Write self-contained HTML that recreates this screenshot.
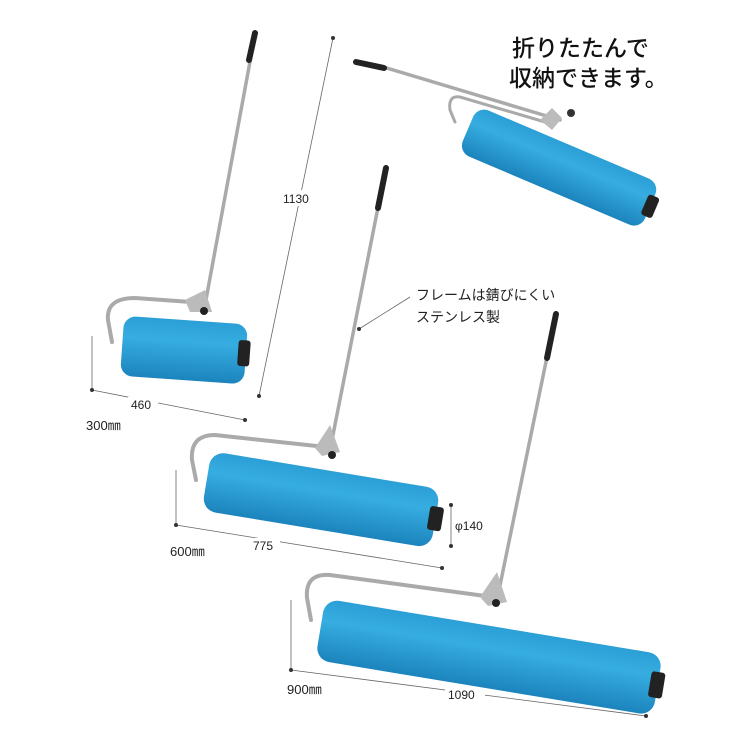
<!DOCTYPE html>
<html><head><meta charset="utf-8"><style>
html,body{margin:0;padding:0;background:#fff;}
svg{display:block}
text{font-family:"Liberation Sans","Noto Sans CJK JP",sans-serif;fill:#222}
</style></head><body>
<svg width="750" height="750" viewBox="0 0 750 750" xmlns="http://www.w3.org/2000/svg">
<defs>
<linearGradient id="blue" x1="0" y1="0" x2="0" y2="1">
<stop offset="0" stop-color="#2b9fd6"/><stop offset="0.35" stop-color="#36ade0"/><stop offset="1" stop-color="#1c84bd"/>
</linearGradient>
</defs>

<g stroke="#666" stroke-width="0.8" fill="none">
<line x1="333" y1="38" x2="259" y2="396"/>
<line x1="92" y1="336" x2="92" y2="390"/>
<line x1="92" y1="390" x2="245" y2="420"/>
<line x1="176" y1="470" x2="176" y2="525"/>
<line x1="176" y1="525" x2="442" y2="568"/>
<line x1="451" y1="505" x2="451" y2="546"/>
<line x1="291" y1="600" x2="291" y2="670"/>
<line x1="291" y1="670" x2="646" y2="716"/>
<line x1="410" y1="297" x2="359" y2="329"/>
</g>
<g fill="#333">
<circle cx="333" cy="38" r="2"/><circle cx="259" cy="396" r="2"/>
<circle cx="92" cy="390" r="2"/><circle cx="245" cy="420" r="2"/>
<circle cx="176" cy="525" r="2"/><circle cx="442" cy="568" r="2"/>
<circle cx="451" cy="505" r="2"/><circle cx="451" cy="546" r="2"/>
<circle cx="291" cy="670" r="2"/><circle cx="646" cy="716" r="2"/>
<circle cx="359" cy="329" r="2"/>
</g>
<g fill="#fff">
<rect x="280" y="190" width="40" height="16"/>
<rect x="128" y="397" width="30" height="16"/>
<rect x="250" y="538" width="30" height="16"/>
<rect x="445" y="686" width="40" height="16"/>
</g>
<text x="283" y="203" font-size="12">1130</text>
<text x="131" y="409" font-size="12">460</text>
<text x="253" y="550" font-size="12">775</text>
<text x="448" y="699" font-size="12">1090</text>
<text x="455" y="530" font-size="12">φ140</text>
<text x="86" y="430" font-size="13">300㎜</text>
<text x="170" y="556" font-size="13">600㎜</text>
<text x="287" y="694" font-size="13">900㎜</text>
<text x="416" y="300" font-size="14">フレームは錆びにくい</text>
<text x="416" y="322" font-size="14">ステンレス製</text>
<text x="512" y="56" font-size="23" font-weight="500" style="fill:#111">折りたたんで</text>
<text x="509" y="86" font-size="23" font-weight="500" style="fill:#111">収納できます。</text>

<!-- Roller 1 -->
<g stroke-linecap="round" fill="none">
<line x1="205" y1="305" x2="254" y2="40" stroke="#aaa" stroke-width="3.5"/>
<line x1="249" y1="60" x2="255" y2="33" stroke="#222" stroke-width="6"/>
<path d="M205 303 L135 298 Q106 298 108 320 L112 342" stroke="#aaa" stroke-width="4"/>
</g>
<polygon points="185,300 205,290 212,312 190,312" fill="#bbb"/>
<circle cx="204" cy="311" r="4" fill="#222"/>
<g transform="rotate(4 183 350)">
<rect x="122" y="320" width="124" height="60" rx="12" fill="url(#blue)"/>
<rect x="238" y="336" width="12" height="26" rx="3" fill="#222"/>
</g>

<!-- Roller 2 -->
<g stroke-linecap="round" fill="none">
<line x1="330" y1="450" x2="385" y2="172" stroke="#aaa" stroke-width="3.5"/>
<line x1="378" y1="208" x2="386" y2="168" stroke="#222" stroke-width="6"/>
<path d="M335 448 L215 435 Q190 435 192 460 L196 480" stroke="#aaa" stroke-width="4"/>
</g>
<polygon points="315,448 330,425 340,452 322,456" fill="#bbb"/>
<circle cx="332" cy="455" r="4" fill="#222"/>
<g transform="rotate(9.4 323 500)">
<rect x="205" y="470" width="232" height="60" rx="14" fill="url(#blue)"/>
<rect x="430" y="488" width="14" height="24" rx="3" fill="#222"/>
</g>

<!-- Roller 3 -->
<g stroke-linecap="round" fill="none">
<line x1="497" y1="600" x2="555" y2="318" stroke="#aaa" stroke-width="3.5"/>
<line x1="547" y1="358" x2="556" y2="314" stroke="#222" stroke-width="6"/>
<path d="M500 598 L330 575 Q305 573 307 598 L311 620" stroke="#aaa" stroke-width="4"/>
</g>
<polygon points="480,597 497,572 507,602 488,606" fill="#bbb"/>
<circle cx="496" cy="603" r="4" fill="#222"/>
<g transform="rotate(9.4 488 657)">
<rect x="318" y="626" width="342" height="62" rx="14" fill="url(#blue)"/>
<rect x="652" y="644" width="14" height="26" rx="3" fill="#222"/>
</g>

<!-- Roller 4 folded -->
<g stroke-linecap="round" fill="none">
<line x1="380" y1="66" x2="560" y2="120" stroke="#aaa" stroke-width="3.5"/>
<line x1="356" y1="62" x2="384" y2="68" stroke="#222" stroke-width="6"/>
<path d="M545 122 L460 97 Q448 95 450 110 L455 122" stroke="#aaa" stroke-width="3"/>
</g>
<polygon points="540,120 552,108 562,118 552,130" fill="#bbb"/>
<circle cx="571" cy="113" r="4" fill="#333"/>
<g transform="rotate(23 560 168)">
<rect x="460" y="143" width="198" height="50" rx="12" fill="url(#blue)"/>
<rect x="652" y="157" width="12" height="22" rx="3" fill="#222"/>
</g>
</svg>
</body></html>
